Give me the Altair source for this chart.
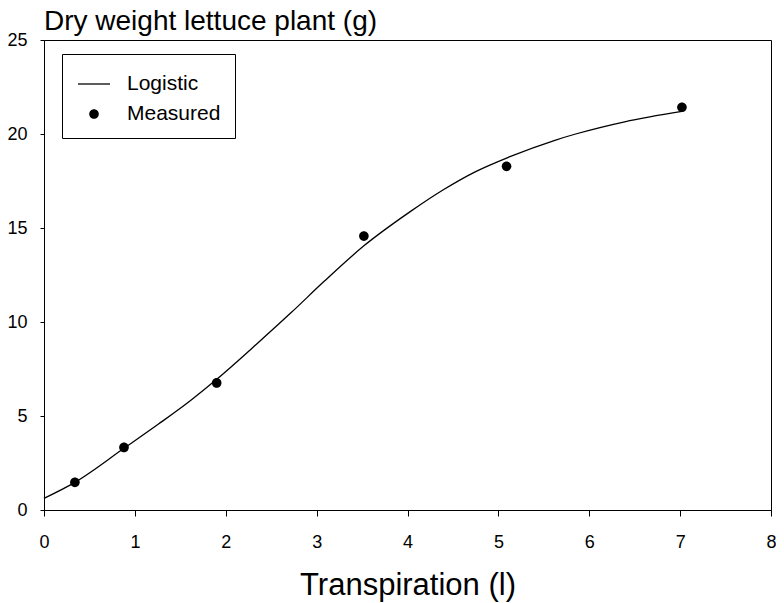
import altair as alt
import pandas as pd

# ---- data ----
curve_x = [0.00, 0.34, 0.88, 1.26, 1.62, 1.90, 2.35, 2.72, 3.08, 3.52, 4.03, 4.39, 4.75, 5.12, 5.63, 5.85, 6.39, 7.02]
curve_y = [0.62, 1.47, 3.28, 4.57, 5.85, 6.95, 8.87, 10.50, 12.15, 14.05, 15.87, 17.02, 18.00, 18.78, 19.68, 20.00, 20.65, 21.20]

meas_x = [0.34, 0.88, 1.90, 3.52, 5.09, 7.02]
meas_y = [1.47, 3.33, 6.76, 14.57, 18.28, 21.42]

series_names = ["Logistic", "Measured"]
x_ticks = [0, 1, 2, 3, 4, 5, 6, 7, 8]
y_ticks = [0, 5, 10, 15, 20, 25]

FONT = "Liberation Sans"
LINE_PATH = "M-1,-0.04H1V0.04H-1Z"
DOT_PATH = "M-0.3,0A0.3,0.3 0 1,1 0.3,0A0.3,0.3 0 1,1 -0.3,0Z"

curve_df = pd.DataFrame({"x": curve_x, "y": curve_y})
meas_df = pd.DataFrame({"x": meas_x, "y": meas_y, "series": ["Measured"] * len(meas_x)})

x_scale = alt.Scale(domain=[0, 8], nice=False, zero=False)
y_scale = alt.Scale(domain=[0, 25], nice=False)

x_axis = alt.Axis(
    values=x_ticks, title="Transpiration (l)", grid=False, format="d",
    tickSize=6, tickColor="black", domainColor="black", labelColor="black",
    labelFont=FONT, labelFontSize=18, labelPadding=17, labelFlush=False,
    titleFont=FONT, titleFontSize=31, titleFontWeight="normal", titleColor="black",
    titleBaseline="alphabetic", titleY=84,
)
y_axis = alt.Axis(
    values=y_ticks, title=None, grid=False, format="d",
    tickSize=4, tickColor="black", domainColor="black", labelColor="black",
    labelFont=FONT, labelFontSize=18, labelPadding=13, labelFlush=False,
)

line = alt.Chart(curve_df).mark_line(
    color="black", strokeWidth=1.3, interpolate="monotone"
).encode(
    x=alt.X("x:Q", scale=x_scale, axis=x_axis),
    y=alt.Y("y:Q", scale=y_scale, axis=y_axis),
)

points = alt.Chart(meas_df).mark_point(
    filled=True, color="black", size=1024, opacity=1
).encode(
    x=alt.X("x:Q", scale=x_scale),
    y=alt.Y("y:Q", scale=y_scale),
    shape=alt.Shape(
        "series:N",
        scale=alt.Scale(domain=series_names, range=[LINE_PATH, DOT_PATH]),
        legend=alt.Legend(
            title=None, orient="none", legendX=18, legendY=14,
            padding=14, strokeColor="black", fillColor="white", cornerRadius=0,
            labelFont=FONT, labelFontSize=21, labelColor="black", labelOffset=17,
            symbolSize=1024, symbolOffset=2, rowPadding=4,
            symbolFillColor="black", symbolStrokeWidth=0,
        ),
    ),
)

chart = alt.layer(line, points).properties(
    width=727, height=470,
    title=alt.TitleParams(
        "Dry weight lettuce plant (g)", anchor="start", frame="group",
        font=FONT, fontSize=28, fontWeight="normal", color="black",
        baseline="alphabetic", offset=4, dy=31,
    ),
    autosize=alt.AutoSizeParams(type="none"),
    padding={"left": 36, "top": 32, "right": 5, "bottom": 93},
).configure_view(stroke="black", strokeWidth=1)

chart.save("out.html", embed_options={"renderer": "svg", "actions": False})
